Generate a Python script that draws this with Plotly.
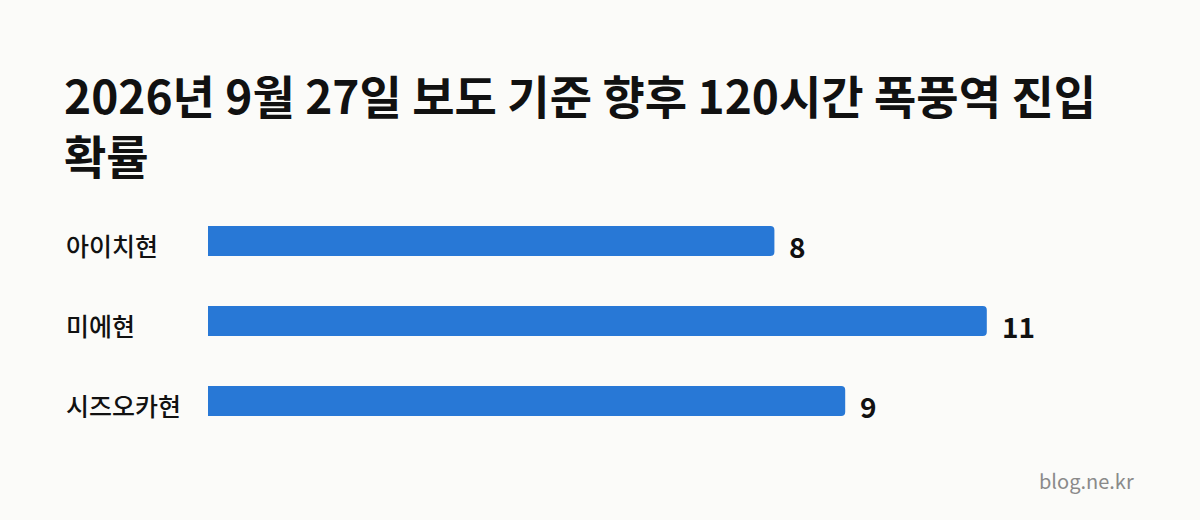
"""Horizontal bar chart: storm zone entry probability by prefecture."""

import plotly.graph_objects as go

FONT = 'Noto Sans CJK KR'

TITLE = '2026년 9월 27일 보도 기준 향후 120시간 폭풍역 진입<br>확률'
prefectures = ['아이치현', '미에현', '시즈오카현']
probabilities = [8, 11, 9]
watermark = 'blog.ne.kr'

BAR_COLOR = '#2878d6'
BG_COLOR = '#fbfbf9'

# plot area in pixels
PLOT_LEFT, PLOT_WIDTH = 208, 885
PLOT_TOP, PLOT_HEIGHT = 201, 240

fig = go.Figure(
    go.Bar(
        x=probabilities,
        y=prefectures,
        orientation='h',
        marker={'color': BAR_COLOR, 'line': {'width': 0}},
        hoverinfo='skip',
    ),
)

# value labels at the bar ends
annotations = [
    {
        'x': value,
        'y': name,
        'text': f'<b>{value}</b>',
        'showarrow': False,
        'xanchor': 'left',
        'xshift': 13,
        'yshift': -5,
        'font': {'family': FONT, 'size': 28, 'color': '#111111'},
    }
    for name, value in zip(prefectures, probabilities)
]

# category labels, left aligned
annotations += [
    {
        'x': (64 - PLOT_LEFT) / PLOT_WIDTH,
        'xref': 'paper',
        'y': name,
        'text': name,
        'showarrow': False,
        'xanchor': 'left',
        'yshift': -4,
        'font': {'family': FONT, 'size': 25, 'color': '#111111', 'weight': 500},
    }
    for name in prefectures
]

annotations.append({
    'x': (1136 - PLOT_LEFT) / PLOT_WIDTH,
    'y': -(480 - PLOT_TOP - PLOT_HEIGHT) / PLOT_HEIGHT,
    'xref': 'paper',
    'yref': 'paper',
    'text': watermark,
    'showarrow': False,
    'xanchor': 'right',
    'yanchor': 'middle',
    'font': {'family': FONT, 'size': 20, 'color': '#8a8a8a'},
})

fig.update_layout(
    width=1200,
    height=520,
    paper_bgcolor=BG_COLOR,
    plot_bgcolor=BG_COLOR,
    margin={
        'l': PLOT_LEFT,
        'r': 1200 - PLOT_LEFT - PLOT_WIDTH,
        't': PLOT_TOP,
        'b': 520 - PLOT_TOP - PLOT_HEIGHT,
    },
    title={
        'text': TITLE,
        'x': 64 / 1200,
        'xanchor': 'left',
        'xref': 'container',
        'y': 1 - 114 / 520,
        'yanchor': 'top',
        'yref': 'container',
        'font': {'family': FONT, 'size': 46, 'color': '#111111', 'weight': 'bold'},
    },
    bargap=0.625,
    barcornerradius=4,
    showlegend=False,
    annotations=annotations,
    xaxis={
        'range': [0, 12.5],
        'visible': False,
        'fixedrange': True,
    },
    yaxis={
        'autorange': 'reversed',
        'showticklabels': False,
        'showgrid': False,
        'zeroline': False,
        'fixedrange': True,
    },
)

# drop the page's default body margin so the figure fills the window
fig.write_html(
    'out.html',
    config={'displayModeBar': False},
    post_script="document.body.style.margin='0';document.body.style.background='#fbfbf9';",
)
